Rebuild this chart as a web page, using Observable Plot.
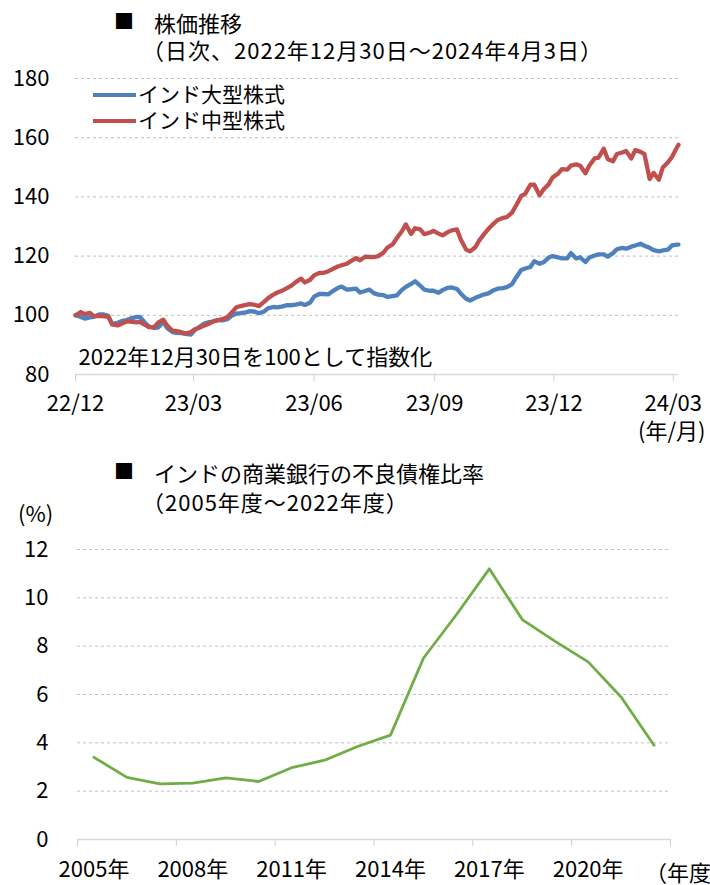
<!DOCTYPE html>
<html>
<head>
<meta charset="utf-8">
<script src="https://cdn.jsdelivr.net/npm/d3@7"></script>
<script src="https://cdn.jsdelivr.net/npm/@observablehq/plot@0.6"></script>
<style>
  html, body { margin: 0; padding: 0; background: #fff; }
  body { width: 710px; height: 885px; overflow: hidden; font-family: "Noto Sans CJK JP", "Noto Sans", sans-serif; }
  #wrap { position: relative; width: 710px; height: 885px; overflow: hidden; }
  #wrap svg { position: absolute; left: 0; }
  .t { position: absolute; white-space: nowrap; font-size: 22px; line-height: 1; color: #000; }
  .sp { letter-spacing: 1px; }
  .sw { position: absolute; height: 4px; width: 43px; }
</style>
</head>
<body>
<div id="wrap"></div>
<script>
// ---------- Chart 1: stock index (2022/12/30 = 100) ----------
const stockTitle = "株価推移";
const stockSubtitle = "（日次、2022年12月30日～2024年4月3日）";
const stockNote = "2022年12月30日を100として指数化";
const stockXUnit = "(年/月)";
const seriesNames = ["インド大型株式", "インド中型株式"];
const seriesColors = ["#4F81BD", "#C0504D"];
const stockXTicks = ["2022-12-30", "2023-03-30", "2023-06-30", "2023-09-30", "2023-12-30", "2024-03-30"];
const stockYTicks = [80, 100, 120, 140, 160, 180];

const stockDates = [
  "2022-12-30",
  "2023-01-03","2023-01-06","2023-01-10","2023-01-13","2023-01-17","2023-01-20","2023-01-24","2023-01-27","2023-01-31",
  "2023-02-03","2023-02-07","2023-02-10","2023-02-14","2023-02-17","2023-02-21","2023-02-24","2023-02-28",
  "2023-03-03","2023-03-07","2023-03-10","2023-03-14","2023-03-17","2023-03-21","2023-03-24","2023-03-28","2023-03-31",
  "2023-04-04","2023-04-07","2023-04-11","2023-04-14","2023-04-18","2023-04-21","2023-04-25","2023-04-28",
  "2023-05-02","2023-05-05","2023-05-09","2023-05-12","2023-05-16","2023-05-19","2023-05-23","2023-05-26","2023-05-30",
  "2023-06-02","2023-06-06","2023-06-09","2023-06-13","2023-06-16","2023-06-20","2023-06-23","2023-06-27","2023-06-30",
  "2023-07-04","2023-07-07","2023-07-11","2023-07-14","2023-07-18","2023-07-21","2023-07-25","2023-07-28",
  "2023-08-01","2023-08-04","2023-08-08","2023-08-11","2023-08-15","2023-08-18","2023-08-22","2023-08-25","2023-08-29",
  "2023-09-01","2023-09-05","2023-09-08","2023-09-12","2023-09-15","2023-09-19","2023-09-22","2023-09-26","2023-09-29",
  "2023-10-03","2023-10-06","2023-10-10","2023-10-13","2023-10-17","2023-10-20","2023-10-24","2023-10-27","2023-10-31",
  "2023-11-03","2023-11-07","2023-11-10","2023-11-14","2023-11-17","2023-11-21","2023-11-24","2023-11-28",
  "2023-12-01","2023-12-05","2023-12-08","2023-12-12","2023-12-15","2023-12-19","2023-12-22","2023-12-26","2023-12-29",
  "2024-01-02","2024-01-05","2024-01-09","2024-01-12","2024-01-16","2024-01-19","2024-01-23","2024-01-26","2024-01-30",
  "2024-02-02","2024-02-06","2024-02-09","2024-02-13","2024-02-16","2024-02-20","2024-02-23","2024-02-27",
  "2024-03-01","2024-03-05","2024-03-08","2024-03-12","2024-03-15","2024-03-19","2024-03-22","2024-03-26","2024-03-29",
  "2024-04-02","2024-04-03"
];

const largeCap = [
  100,
  99.4, 98.9, 99.3, 99.5, 100.3, 100.3, 99.8, 97.0, 97.5,
  98.0, 98.4, 98.9, 99.4, 99.5, 97.5, 96.2, 95.7,
  95.9, 97.7, 95.7, 94.3, 94.1, 94.0, 93.7, 93.5, 95.0,
  96.2, 97.1, 97.7, 97.9, 98.4, 98.3, 98.7, 99.8,
  100.6, 100.7, 101.0, 101.4, 101.2, 100.7, 101.3, 102.4, 102.8,
  102.7, 103.0, 103.4, 103.4, 103.6, 104.0, 103.5, 104.3, 106.3,
  107.2, 107.2, 107.1, 108.1, 109.2, 109.7, 108.7, 108.8,
  109.0, 107.7, 108.2, 108.7, 107.4, 107.0, 106.8, 106.2, 106.5,
  106.7, 108.6, 109.6, 110.6, 111.5, 110.0, 108.7, 108.3, 108.3,
  107.6, 108.5, 109.3, 109.4, 108.9, 107.3, 105.6, 105.0, 105.9,
  106.4, 107.1, 107.4, 108.5, 109.0, 109.2, 109.5, 110.5,
  112.7, 115.3, 115.8, 116.3, 118.3, 117.4, 117.9, 119.5, 120.0,
  119.6, 119.2, 119.2, 121.0, 119.2, 119.6, 118.0, 119.5, 120.2,
  120.6, 120.6, 119.8, 121.0, 122.3, 122.8, 122.5, 123.2,
  123.6, 124.2, 123.5, 122.8, 122.0, 121.6, 121.9, 122.2, 123.6,
  123.9, 123.9
];

const midCap = [
  100,
  101.1, 100.4, 100.8, 99.7, 99.7, 99.7, 99.5, 96.9, 96.6,
  97.1, 97.9, 97.9, 97.6, 97.8, 96.8, 96.0, 96.0,
  97.5, 98.5, 96.5, 94.8, 94.7, 94.3, 93.8, 94.3, 95.3,
  95.9, 96.5, 97.2, 98.0, 98.4, 98.7, 99.4, 100.9,
  102.8, 103.1, 103.5, 103.8, 103.5, 103.1, 104.6, 105.8, 107.0,
  107.7, 108.4, 109.1, 110.1, 111.2, 112.4, 111.1, 112.0, 113.5,
  114.3, 114.3, 114.9, 115.6, 116.5, 116.9, 117.4, 118.3,
  119.3, 118.6, 119.8, 119.7, 119.7, 120.0, 121.2, 122.9, 124.0,
  126.0, 128.4, 130.7, 127.5, 129.4, 129.0, 127.4, 127.9, 128.5,
  127.6, 127.0, 128.1, 128.7, 129.0, 125.5, 122.2, 121.6, 123.0,
  125.3, 127.6, 129.2, 131.0, 132.2, 132.9, 133.2, 134.7,
  137.0, 140.3, 141.0, 144.1, 144.1, 140.5, 142.5, 144.3, 146.6,
  147.8, 149.4, 149.2, 150.6, 151.0, 150.5, 148.0, 150.6, 153.0,
  153.3, 156.3, 152.8, 152.0, 154.5, 155.0, 155.5, 153.0,
  155.8, 155.2, 154.5, 146.0, 148.1, 145.8, 149.9, 151.7, 153.5,
  156.9, 157.6
];

// ---------- Chart 2: NPA ratio ----------
const npaTitle = "インドの商業銀行の不良債権比率";
const npaSubtitle = "（2005年度～2022年度）";
const npaYUnit = "(%)";
const npaXUnit = "（年度）";
const npaYears = [2005, 2006, 2007, 2008, 2009, 2010, 2011, 2012, 2013, 2014, 2015, 2016, 2017, 2018, 2019, 2020, 2021, 2022];
const npaRatio = [3.4, 2.57, 2.3, 2.33, 2.55, 2.4, 2.97, 3.28, 3.85, 4.32, 7.5, 9.3, 11.2, 9.1, 8.2, 7.35, 5.9, 3.9];
const npaLabelYears = [2005, 2008, 2011, 2014, 2017, 2020];
const npaYTicks = [0, 2, 4, 6, 8, 10, 12];

// ---------- build ----------
const FONT = '"Noto Sans CJK JP", "Noto Sans", sans-serif';
const parse = d3.utcParse("%Y-%m-%d");
const wrap = document.getElementById("wrap");

const stockRows = [];
stockDates.forEach((d, i) => {
  stockRows.push({date: parse(d), value: largeCap[i], series: seriesNames[0]});
  stockRows.push({date: parse(d), value: midCap[i], series: seriesNames[1]});
});

const chart1 = Plot.plot({
  width: 710, height: 440,
  marginTop: 78, marginBottom: 66, marginLeft: 75, marginRight: 32,
  style: {fontFamily: FONT, fontSize: "22px", color: "#000", background: "transparent", overflow: "visible"},
  x: {type: "utc", label: null, domain: [parse(stockDates[0]), parse(stockDates[stockDates.length - 1])]},
  y: {label: null, domain: [stockYTicks[0], stockYTicks[stockYTicks.length - 1]]},
  color: {domain: seriesNames, range: seriesColors},
  marks: [
    Plot.ruleY(stockYTicks.slice(1), {stroke: "#bfbfbf", strokeWidth: 1, strokeDasharray: "3,3"}),
    Plot.ruleY([stockYTicks[0]], {stroke: "#d9d9d9", strokeWidth: 1.3}),
    Plot.axisY(stockYTicks, {label: null, tickSize: 0, tickPadding: 26}),
    Plot.axisX(stockXTicks.map(parse), {label: null, tickSize: 7, tickPadding: 14, stroke: "#d0d0d0", tickFormat: d3.utcFormat("%y/%m")}),
    Plot.line(stockRows, {x: "date", y: "value", z: "series", stroke: "series", strokeWidth: 4.3, strokeLinejoin: "round", strokeLinecap: "round"}),
    Plot.text([stockNote], {frameAnchor: "bottom-left", textAnchor: "start", lineAnchor: "bottom", dx: 3, dy: -10, fontSize: 22})
  ]
});
chart1.style.top = "0px";
wrap.appendChild(chart1);

const npaRows = npaYears.map((y, i) => ({year: y, ratio: npaRatio[i]}));
const npaBounds = npaLabelYears.map(y => y - 0.5).concat([npaYears[npaYears.length - 1] + 0.5]);

const chart2 = Plot.plot({
  width: 710, height: 445,
  marginTop: 109, marginBottom: 46, marginLeft: 77, marginRight: 40,
  style: {fontFamily: FONT, fontSize: "22px", color: "#000", background: "transparent", overflow: "visible"},
  x: {label: null, domain: [npaYears[0] - 0.5, npaYears[npaYears.length - 1] + 0.5]},
  y: {label: null, domain: [npaYTicks[0], npaYTicks[npaYTicks.length - 1]]},
  marks: [
    Plot.ruleY(npaYTicks.slice(1), {stroke: "#bfbfbf", strokeWidth: 1, strokeDasharray: "3,3"}),
    Plot.ruleY([npaYTicks[0]], {stroke: "#d9d9d9", strokeWidth: 1.3}),
    Plot.axisY(npaYTicks, {label: null, tickSize: 0, tickPadding: 29}),
    Plot.axisX(npaBounds, {label: null, tickSize: 7, stroke: "#d0d0d0", tickFormat: () => ""}),
    Plot.axisX(npaLabelYears, {label: null, tickSize: 0, tickPadding: 22, tickFormat: d => d + "年"}),
    Plot.line(npaRows, {x: "year", y: "ratio", stroke: "#70AD47", strokeWidth: 2.8, strokeLinejoin: "round"})
  ]
});
chart2.style.top = "440px";
wrap.appendChild(chart2);

// ---------- texts ----------
function addText(txt, left, top, size, cls) {
  const d = document.createElement("div");
  d.className = "t" + (cls ? " " + cls : "");
  d.textContent = txt;
  d.style.left = left + "px";
  d.style.top = top + "px";
  if (size) d.style.fontSize = size + "px";
  wrap.appendChild(d);
  return d;
}
function addSwatch(color, left, top) {
  const d = document.createElement("div");
  d.className = "sw";
  d.style.background = color;
  d.style.left = left + "px";
  d.style.top = top + "px";
  wrap.appendChild(d);
}

addText("■", 114, 11, 20);
addText(stockTitle, 154, 11);
addText(stockSubtitle, 142, 38, 22, "sp");
addSwatch(seriesColors[0], 93, 93);
addText(seriesNames[0], 138, 83, 21);
addSwatch(seriesColors[1], 93, 119);
addText(seriesNames[1], 138, 109, 21);
addText(stockXUnit, 638, 418);

addText("■", 114, 461, 20);
addText(npaTitle, 154, 461);
addText(npaSubtitle, 142, 490, 22, "sp");
addText(npaYUnit, 18, 501);
addText(npaXUnit, 645, 860);
</script>
</body>
</html>
